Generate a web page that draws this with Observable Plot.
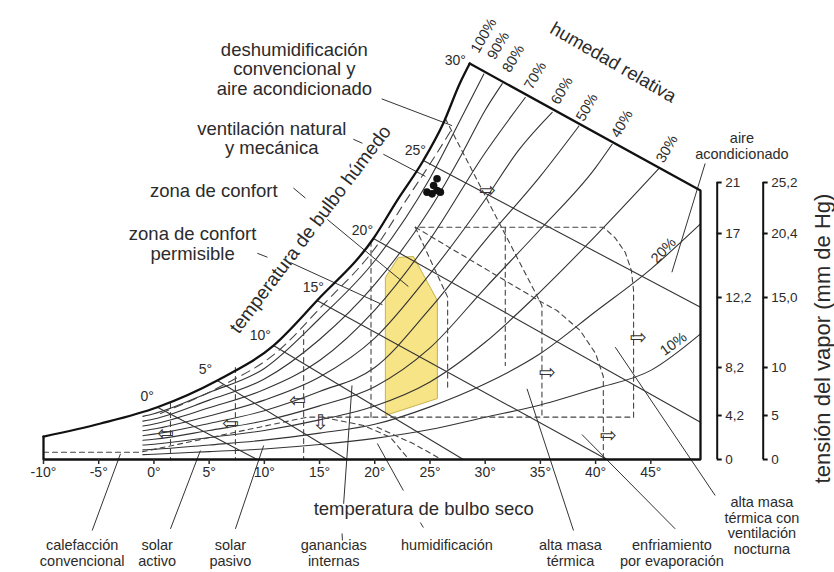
<!DOCTYPE html>
<html><head><meta charset="utf-8">
<script src="https://cdn.jsdelivr.net/npm/d3@7"></script>
<script src="https://cdn.jsdelivr.net/npm/@observablehq/plot@0.6"></script>
<style>
html,body{margin:0;padding:0;background:#fff;}
#chart svg{display:block;}
</style></head><body><div id="chart"></div>
<script>
// ---------- tick labels ----------
const xTicks = [-10,-5,0,5,10,15,20,25,30,35,40,45];
const mmTicks = [0,5,10,15,20.4,25.2];
const mmLabels = ["0","5","10","15,0","20,4","25,2"];
const gkgLabels = ["0","4,2","8,2","12,2","17","21"];

// ---------- curves: [dry-bulb °C, vapour pressure mm Hg] ----------
const satCurve = [[-10,2.61],[-4.82,4.09],[0.31,5.86],[5.74,8.65],[10.83,11.57],[14.78,14.79],[19.88,19.98],[22.02,23.5],[24.4,27.27],[26.2,30.75],[27.7,34.51],[28.6,36.39]];
const frameEdge = [[28.6,36.39],[49.5,24.45],[49.5,0],[-10,0],[-10,2.61]];
const rh90 = [[-1,4.9],[0,5.18],[5,7.4],[10,9.9],[15,13.5],[20,18.1],[25,25.6],[28,31.6],[29.88,35.4]];
const rh80 = [[-1,4.36],[0,4.6],[5,6.6],[10,8.8],[15,12.0],[20,16.1],[25,22.7],[28,28.1],[30,32.0],[31.55,34.5]];
const rh70 = [[-1,3.8],[0,4.03],[5,5.8],[10,7.7],[15,10.5],[20,14.1],[25,19.9],[30,28.0],[33.63,33.2]];
const rh60 = [[-1,3.27],[0,3.46],[5,4.95],[10,6.6],[15,9.0],[20,12.1],[25,17.0],[30,23.6],[33,28.2],[36.07,31.8]];
const rh50 = [[-1,2.7],[0,2.88],[5,4.1],[10,5.5],[15,7.5],[20,10.0],[25,14.2],[30,19.8],[35,25.8],[38.48,30.5]];
const rh40 = [[-1,2.18],[0,2.3],[5,3.3],[10,4.4],[15,6.0],[20,8.0],[25,11.4],[30,15.8],[35,20.8],[40,26.6],[41.5,28.8]];
const rh30 = [[-1,1.64],[0,1.73],[5,2.5],[10,3.3],[15,4.5],[20,6.0],[25,8.5],[30,11.8],[35,15.5],[40,20.2],[45.72,26.5]];
const rh20 = [[-1,1.09],[0,1.15],[5,1.65],[10,2.2],[15,3.0],[20,4.0],[25,5.9],[30,8.3],[35,11.0],[40,14.0],[45,17.4],[49.5,21.3]];
const rh10 = [[-1,0.55],[0,0.6],[5,0.9],[10,1.2],[15,1.7],[20,2.4],[25,3.4],[30,4.8],[35,6.1],[40,7.8],[45,9.7],[49.5,12.4]];
const rhNames = ["90%","80%","70%","60%","50%","40%","30%","20%","10%"];
const rhCurves = [rh90, rh80, rh70, rh60, rh50, rh40, rh30, rh20, rh10];

// wet-bulb lines (0º..25º): start on saturation, end on the border
const wbStart = [[0.31,5.86],[5.74,8.65],[10.83,11.57],[14.78,14.79],[19.88,19.98],[24.4,27.27]];
const wbEnd = [[9.34,0],[17.49,0],[28.02,0],[41.03,0],[49.5,4.24],[49.5,14.3]];

// comfort zone (yellow)
const comfortZone = [[20.96,5.0],[20.96,16.69],[22.14,18.38],[23.5,18.46],[25.67,14.79],[25.67,6.77],[20.96,5.0]];

// dashed zone boundaries
const dashLow = [[-10,0.83],[-1.22,0.83],[13.87,4.81],[43.44,4.81]];
const dashBig = [[43.44,4.81],[43.44,15.59],[43.24,17.28],[42.69,18.8],[41.78,20.02],[40.7,20.99],[23.67,20.99]];
const dashEvap = [[23.67,20.99],[34.84,14.79],[36.5,14.07],[38.6,12.64],[40.0,11.0],[40.7,9.06],[40.7,0]];
const dashVent = [[26.39,31.22],[35.14,14.43],[35.14,4.81]];
const dashPerm = [[23.67,20.99],[26.6,15.03],[26.6,7.6]];
const dashMass = [[31.82,20.99],[31.82,10.14]];
const dashLeft = [[19.66,19.75],[19.66,4.81]];
const dashSolar1 = [[1.5,6.25],[1.5,0]];
const dashSolar2 = [[7.38,10.0],[7.38,0]];
const dashSolar3 = [[13.56,12.64],[13.56,0]];
const dashHum1 = [[15.37,4.77],[18.99,3.86],[21.41,2.53],[22.92,0.26]];
const dashHum2 = [[20.21,3.67],[23.52,1.78],[25.94,0.08]];
const dashSatOffset = [[0.59,5.21],[6.02,8.02],[11.09,11.07],[15.26,14.43],[20.33,19.56],[22.59,23.13],[25.03,26.99],[27.02,30.28]];

// building-data points (ventilation)
const ventPoints = [[24.73,24.29],[25.19,24.13],[25.64,24.45],[25.64,25.55],[25.33,24.92],[25.94,24.29]];

// leader lines [t1,v1,t2,v2]
const leaders = [
  [20.63,33.07,27.0,30.55],
  [18.06,29.27,18.88,28.89],[20.78,27.86,24.58,25.78],
  [12.63,24.68,13.72,23.74],[15.71,21.72,23.04,15.93],
  [9.37,18.73,10.28,18.4],[12.36,17.95,20.69,14.49],
  [49.92,26.99,46.91,17.13],
  [-3.03,0.65,-5.59,-8.07],
  [4.21,1.02,1.5,-7.88],
  [9.94,1.59,7.38,-7.88],
  [17.94,8.13,17.18,-5.03],[17.04,-8.41,17.07,-9.2],
  [20.23,1.82,22.59,-3.52],[24.13,-7.16,24.4,-7.73],
  [33.79,7.78,38.0,-8.07],
  [38.76,2.84,47.21,-7.88],
  [41.78,11.45,50.83,-4.09]
];

// strategy arrows
const arrowPos = [[1.04,2.95],[6.93,4.09],[12.99,6.56],[15.07,4.2],[30.19,24.45],[35.62,9.48],[43.86,12.14],[41.14,2.73]];
const arrowGlyph = ["⇦","⇦","⇦","⇩","⇨","⇨","⇨","⇨"];

// texts
const rhLabelText = ["100%","90%","80%","70%","60%","50%","40%","30%"];
const rhLabelPos = [[29.86,39.03],[31.19,38.09],[32.55,36.86],[34.54,35.26],[36.96,33.85],[39.22,32.28],[42.39,30.72],[46.46,28.37]];
const wbLabelText = ["30°","25°","20°","15°","10°","5°","0°"];
const wbLabelPos = [[27.3,36.67],[23.67,28.21],[18.88,20.68],[14.44,15.84],[9.64,12.29],[4.66,9.79],[-0.61,7.0]];
const bigLabels = ["deshumidificación\nconvencional y\naire acondicionado","ventilación natural\ny mecánica","zona de confort","zona de confort\npermisible"];
const bigLabelPos = [[12.72,35.89],[10.67,29.38],[5.42,24.45],[3.5,19.53]];
const bottomLabels = ["calefacción\nconvencional","solar\nactivo","solar\npasivo","ganancias\ninternas","alta masa\ntérmica","enfriamiento\npor evaporación"];
const bottomLabelT = [-6.5,0.29,6.93,16.28,37.72,46.91];

// the printed vapour-pressure scale is not uniform: piecewise mapping of the tick values
const yKnots = [0,5,10,15,20.4,25.2,40];
const yHeights = [0,44,92,162,226,277,434.3];
const yPiecewise = d3.scaleLinear().domain(yKnots).range(yHeights);

const rows = (name, pts) => pts.map(([t, v]) => ({name, t, v}));
const rhRows = rhCurves.flatMap((c, i) => rows(rhNames[i], c));
const dashRows = [
  rows("low", dashLow), rows("big", dashBig), rows("evap", dashEvap), rows("vent", dashVent),
  rows("perm", dashPerm), rows("mass", dashMass), rows("left", dashLeft), rows("s1", dashSolar1),
  rows("s2", dashSolar2), rows("s3", dashSolar3), rows("h1", dashHum1), rows("h2", dashHum2)
].flat();
const wbIdx = wbStart.map((d, i) => i);
const txt = (labels, pos) => labels.map((s, i) => ({s, t: pos[i][0], v: pos[i][1]}));

const ink = "#2b2b2b";
const font = "'Liberation Sans', Arial, Helvetica, sans-serif";
const edgeT = 49.5;      // right border of the chart (°C)
const tickLen = 0.45;    // right-axis tick length (°C)

function rightAxis(offset, labels) {
  return [
    Plot.ruleX([edgeT], {y1: 0, y2: 25.2, dx: offset, stroke: "#111", strokeWidth: 2}),
    Plot.ruleY(mmTicks, {y: d => d, x1: edgeT, x2: edgeT + tickLen, dx: offset, stroke: "#111", strokeWidth: 2}),
    Plot.text(mmTicks, {y: d => d, x: edgeT, dx: offset + 8, text: (d, i) => labels[i], textAnchor: "start", fontSize: 13.5, fill: ink})
  ];
}

const chart = Plot.plot({
  width: 834, height: 572,
  marginLeft: 43, marginRight: 134, marginTop: 0, marginBottom: 113,
  style: {background: "#fff", color: ink, fontFamily: font},
  x: {domain: [-10, edgeT]},
  y: {transform: v => yPiecewise(v), domain: [0, 459], axis: null},
  marks: [
    Plot.line(rows("comfort", comfortZone), {x: "t", y: "v", fill: "#f6e486", stroke: "#c9b14a", strokeWidth: 1}),
    Plot.line(rhRows, {x: "t", y: "v", z: "name", stroke: "#333", strokeWidth: 1.1, curve: "monotone-x"}),
    Plot.link(wbIdx, {x1: i => wbStart[i][0], y1: i => wbStart[i][1], x2: i => wbEnd[i][0], y2: i => wbEnd[i][1], stroke: "#333", strokeWidth: 1.1}),
    Plot.line(dashRows, {x: "t", y: "v", z: "name", stroke: "#444", strokeWidth: 1.1, strokeDasharray: "5,4"}),
    Plot.line(rows("satoff", dashSatOffset), {x: "t", y: "v", stroke: "#444", strokeWidth: 1.1, strokeDasharray: "9,6", curve: "monotone-x"}),
    Plot.link(leaders, {x1: d => d[0], y1: d => d[1], x2: d => d[2], y2: d => d[3], stroke: "#333", strokeWidth: 1}),
    Plot.line(rows("sat", satCurve), {x: "t", y: "v", stroke: "#111", strokeWidth: 2.3, curve: "monotone-x"}),
    Plot.line(rows("frame", frameEdge), {x: "t", y: "v", stroke: "#111", strokeWidth: 2.3, strokeLinejoin: "miter"}),
    Plot.dot(ventPoints, {x: d => d[0], y: d => d[1], r: 3.8, fill: "#111", stroke: "none"}),
    Plot.text(arrowPos, {x: d => d[0], y: d => d[1], text: (d, i) => arrowGlyph[i], fontSize: 20, fontFamily: "'DejaVu Sans'", fill: "#333"}),
    // axes
    Plot.axisX({ticks: xTicks, tickFormat: d => `${d}°`, tickSize: 5, tickPadding: 3, fontSize: 14, label: null, strokeWidth: 1.5}),
    ...rightAxis(16.7, gkgLabels),
    ...rightAxis(62.7, mmLabels),
    // labels
    Plot.text(txt(rhLabelText, rhLabelPos), {x: "t", y: "v", text: "s", rotate: -60, fontSize: 14.5, fill: ink}),
    Plot.text(txt(["20%"], [[46.15,18.97]]), {x: "t", y: "v", text: "s", rotate: -47, fontSize: 14.5, fill: ink}),
    Plot.text(txt(["10%"], [[47.06,11.69]]), {x: "t", y: "v", text: "s", rotate: -36, fontSize: 14.5, fill: ink}),
    Plot.text(txt(wbLabelText, wbLabelPos), {x: "t", y: "v", text: "s", fontSize: 14, fill: ink}),
    Plot.text(txt(bigLabels, bigLabelPos), {x: "t", y: "v", text: "s", fontSize: 18.5, lineHeight: 1.05, fill: ink}),
    Plot.text(txt(["temperatura de bulbo seco"], [[24.43,-5.6]]), {x: "t", y: "v", text: "s", fontSize: 18.5, fill: ink}),
    Plot.text(txt(["temperatura de bulbo húmedo"], [[14.17,20.78]]), {x: "t", y: "v", text: "s", rotate: -53, fontSize: 19, fill: ink}),
    Plot.text(txt(["humedad relativa"], [[41.6,36.49]]), {x: "t", y: "v", text: "s", rotate: 30, fontSize: 18.5, fill: ink}),
    Plot.text(bottomLabels, {x: (d, i) => bottomLabelT[i], y: () => -10.63, text: d => d, fontSize: 14.5, lineHeight: 1.05, fill: ink}),
    Plot.text(["humidificación"], {x: () => 26.54, y: () => -9.77, text: d => d, fontSize: 14.5, fill: ink}),
    Plot.text(["alta masa\ntérmica con\nventilación\nnocturna"], {x: () => 55.06, y: () => -7.5, text: d => d, fontSize: 14.5, lineHeight: 1.07, fill: ink}),
    Plot.text(["aire\nacondicionado"], {x: () => 53.25, y: () => 28.68, text: d => d, fontSize: 14.5, lineHeight: 1.1, fill: ink}),
    Plot.text(["tensión del vapor (mm de Hg)"], {x: () => 60.63, y: () => 12.07, text: d => d, rotate: -90, fontSize: 22, fill: ink})
  ]
});
document.getElementById("chart").appendChild(chart);
</script>
</body></html>
